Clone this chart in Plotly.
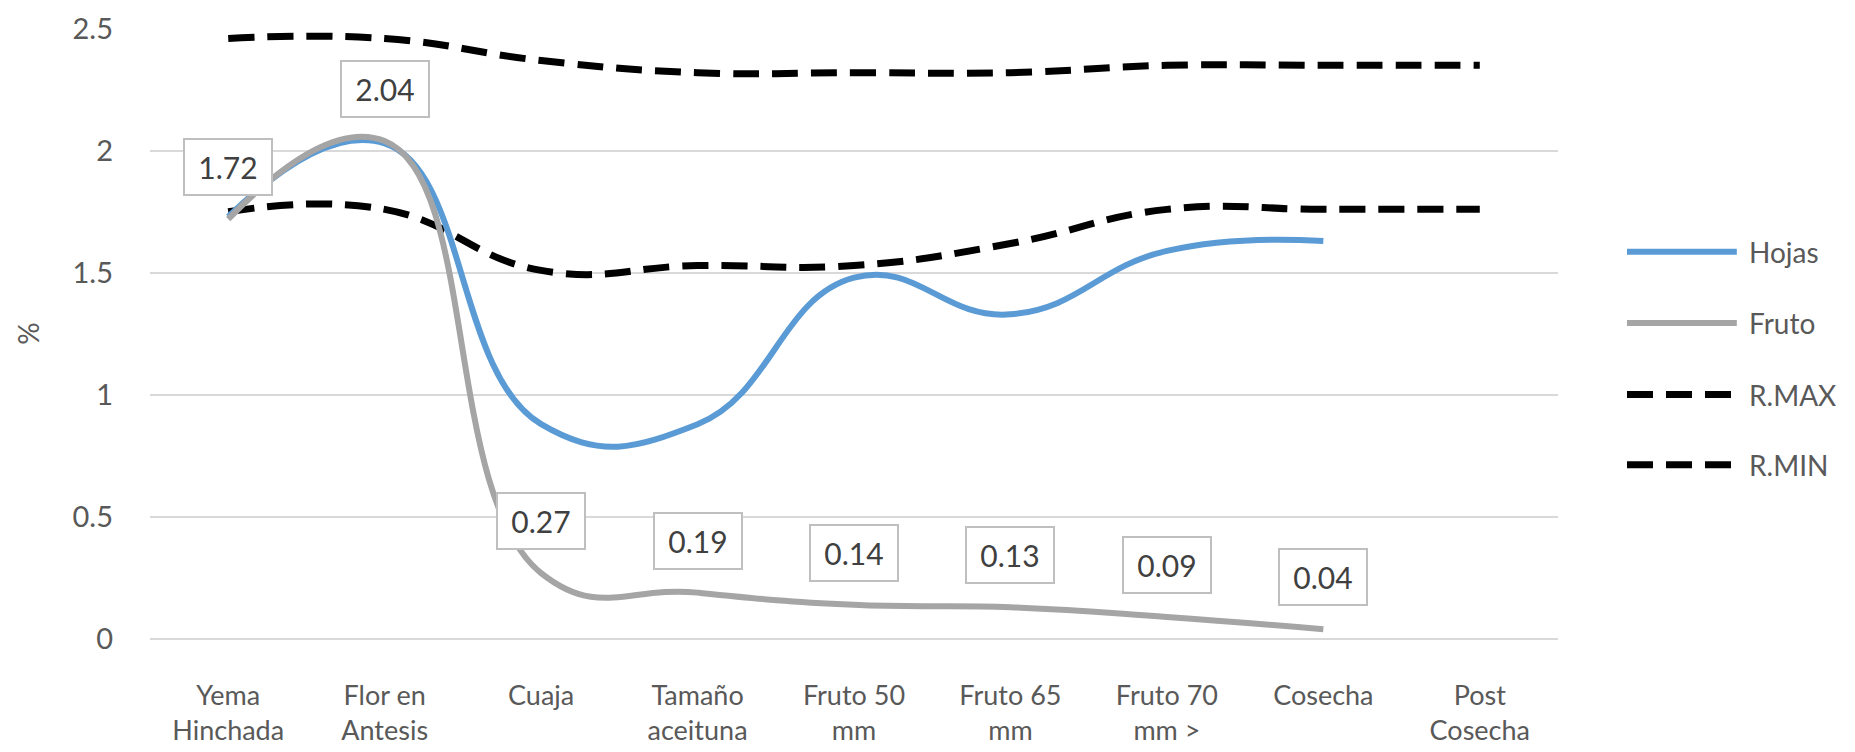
import plotly.graph_objects as go

# Phenological stages (x categories)
stages = [
    "Yema<br>Hinchada", "Flor en<br>Antesis", "Cuaja", "Tamaño<br>aceituna",
    "Fruto 50<br>mm", "Fruto 65<br>mm", "Fruto 70<br>mm >", "Cosecha",
    "Post<br>Cosecha",
]

# Nutrient content, %
hojas = [1.73, 2.03, 0.88, 0.88, 1.48, 1.33, 1.59, 1.63]
fruto = [1.72, 2.04, 0.27, 0.19, 0.14, 0.13, 0.09, 0.04]
r_max = [2.46, 2.46, 2.37, 2.32, 2.32, 2.32, 2.35, 2.35, 2.35]
r_min = [1.75, 1.76, 1.51, 1.53, 1.53, 1.62, 1.76, 1.76, 1.76]

y_ticks = [0, 0.5, 1, 1.5, 2, 2.5]
y_tick_text = ["0", "0.5", "1", "1.5", "2", "2.5"]

FONT = "Lato, 'Open Sans', sans-serif"
TEXT_COLOR = "#595959"
GRID = "#D9D9D9"
BLUE = "#5B9BD5"
GRAY = "#A5A5A5"
BLACK = "#000000"
DASH = "26px,13px"
SMOOTH = 1.3

fig = go.Figure()

fig.add_trace(go.Scatter(
    x=stages[:len(r_max)], y=r_max, name="R.MAX", mode="lines",
    line=dict(color=BLACK, width=7, dash=DASH, shape="spline", smoothing=SMOOTH),
    cliponaxis=False, showlegend=False,
))
fig.add_trace(go.Scatter(
    x=stages[:len(r_min)], y=r_min, name="R.MIN", mode="lines",
    line=dict(color=BLACK, width=7, dash=DASH, shape="spline", smoothing=SMOOTH),
    cliponaxis=False, showlegend=False,
))
fig.add_trace(go.Scatter(
    x=stages[:len(hojas)], y=hojas, name="Hojas", mode="lines",
    line=dict(color=BLUE, width=6, shape="spline", smoothing=SMOOTH),
    cliponaxis=False, showlegend=False,
))
fig.add_trace(go.Scatter(
    x=stages[:len(fruto)], y=fruto, name="Fruto", mode="lines",
    line=dict(color=GRAY, width=6, shape="spline", smoothing=SMOOTH),
    cliponaxis=False, showlegend=False,
))

# Boxed value labels on the fruit series
annotations = []
for stage, val in zip(stages, fruto):
    annotations.append(dict(
        x=stage, y=val, xref="x", yref="y", text=f"{val:.2f}",
        showarrow=False, yshift=52, yanchor="middle",
        width=72, height=40, borderpad=7,
        font=dict(family=FONT, size=30, color="#404040"),
        bgcolor="white", bordercolor="#BFBFBF", borderwidth=2,
    ))

# Legend drawn at the right of the plot area
legend_items = [
    ("Hojas", BLUE, "solid", 0.634),
    ("Fruto", GRAY, "solid", 0.517),
    ("R.MAX", BLACK, "dash", 0.400),
    ("R.MIN", BLACK, "dash", 0.285),
]
shapes = []
for name, color, style, ypos in legend_items:
    shapes.append(dict(
        type="line", xref="paper", yref="paper",
        x0=1.049, x1=1.127, y0=ypos, y1=ypos,
        line=dict(color=color, width=7 if style == "dash" else 6,
                  dash=DASH if style == "dash" else "solid"),
    ))
    annotations.append(dict(
        x=1.134, y=ypos, xref="paper", yref="paper", text=name,
        showarrow=False, xanchor="left", yanchor="middle",
        font=dict(family=FONT, size=28, color=TEXT_COLOR),
    ))

fig.update_layout(
    width=1855, height=752,
    margin=dict(l=150, r=297, t=28, b=113),
    paper_bgcolor="white", plot_bgcolor="white",
    font=dict(family=FONT, color=TEXT_COLOR),
    showlegend=False,
    annotations=annotations,
    shapes=shapes,
    xaxis=dict(
        type="category", categoryorder="array", categoryarray=stages,
        range=[-0.5, len(stages) - 0.5], automargin=False,
        showgrid=False, zeroline=False, showline=False, ticks="",
        tickfont=dict(family=FONT, size=27, color=TEXT_COLOR),
        ticklabelstandoff=38,
    ),
    yaxis=dict(
        range=[0, 2.503], tickvals=y_ticks, ticktext=y_tick_text,
        automargin=False,
        showgrid=True, gridcolor=GRID, gridwidth=2,
        zeroline=True, zerolinecolor=GRID, zerolinewidth=2,
        showline=False, ticks="",
        tickfont=dict(family=FONT, size=29, color=TEXT_COLOR),
        ticklabelstandoff=36,
        title=dict(text="%", font=dict(family=FONT, size=28, color=TEXT_COLOR),
                   standoff=24),
    ),
)

fig.write_html("out.html")
